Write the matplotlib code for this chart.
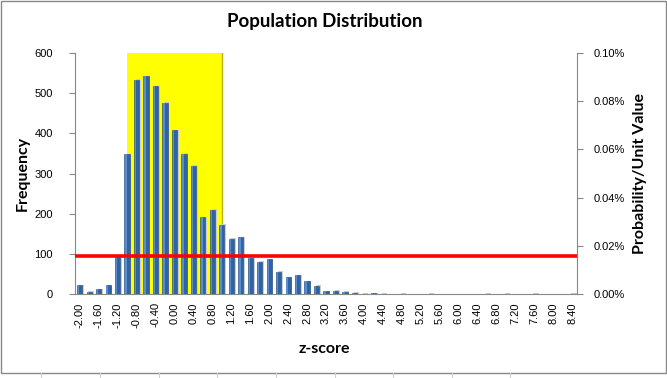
import numpy as np
import matplotlib
matplotlib.use("Agg")
import matplotlib.pyplot as plt
from matplotlib.patches import Rectangle
from matplotlib.lines import Line2D

# z-score categories (every 0.2)
z_scores = [-2.0, -1.8, -1.6, -1.4, -1.2, -1.0, -0.8, -0.6, -0.4, -0.2,
            0.0, 0.2, 0.4, 0.6, 0.8, 1.0, 1.2, 1.4, 1.6, 1.8,
            2.0, 2.2, 2.4, 2.6, 2.8, 3.0, 3.2, 3.4, 3.6, 3.8,
            4.0, 4.2, 4.4, 4.6, 4.8, 5.0, 5.2, 5.4, 5.6, 5.8,
            6.0, 6.2, 6.4, 6.6, 6.8, 7.0, 7.2, 7.4, 7.6, 7.8,
            8.0, 8.2, 8.4]
frequency = [22, 6, 12, 22, 92, 348, 534, 542, 517, 476,
             408, 349, 319, 191, 209, 172, 137, 141, 90, 80,
             86, 55, 42, 47, 32, 20, 7, 8, 5, 3,
             1, 2, 1, 0, 1, 0, 0, 1, 0, 0,
             0, 0, 0, 1, 0, 1, 0, 0, 1, 0,
             0, 0, 1]
band_lo, band_hi = -1.0, 1.0        # highlighted range
threshold = 94                      # red line (frequency units)
prob_max = 0.10                     # right axis max, percent

assert len(z_scores) == len(frequency)

plt.rcParams['font.family'] = ['Liberation Sans', 'DejaVu Sans']

fig = plt.figure(figsize=(6.67, 3.78), dpi=100)
ax = fig.add_axes([75/667, 1-294/378, 502/667, 241/378])

x = np.arange(len(z_scores))
freq = np.array(frequency)
i_lo = z_scores.index(band_lo)
i_hi = z_scores.index(band_hi)

ax.add_patch(Rectangle((i_lo - 0.05, 0), i_hi - i_lo + 0.1, 600,
                       facecolor='#ffff00', edgecolor='none', zorder=1))
ax.plot([i_hi + 0.05, i_hi + 0.05], [0, 600], color='#b5b500', lw=1, zorder=1)

# shadow + bars
nz = freq > 0
ax.bar(x[nz] + 0.18, freq[nz] + 1.5, width=0.55, color='#cccccc', zorder=2)
ax.bar(x, freq, width=0.55, color='#2f64a3', edgecolor='#1f4a7e',
       linewidth=0.4, zorder=3)
ax.bar(x - 0.1, freq, width=0.15, color='#5b8ed0', zorder=4, linewidth=0)

ax.axhline(threshold, color='#ff0000', lw=2.6, zorder=5)

ax.set_xlim(-0.5, len(z_scores) - 0.5)
ax.set_ylim(0, 600)
ax.set_yticks(range(0, 601, 100))
ax.set_xticks(x[::2])
ax.set_xticklabels([f"{v:.2f}" for v in z_scores[::2]], rotation=90,
                   fontsize=8)
ax.tick_params(axis='x', length=0, pad=6)
ax.tick_params(axis='y', length=4, color='#888888', labelsize=8, pad=12)

for s in ['top', 'right']:
    ax.spines[s].set_visible(False)
for s in ['left', 'bottom']:
    ax.spines[s].set_color('#888888')

ax2 = ax.twinx()
ax2.set_ylim(0, prob_max)
ax2.set_yticks(np.arange(0, prob_max + 1e-9, 0.02))
ax2.set_yticklabels([f"{v:.2f}%" for v in np.arange(0, prob_max + 1e-9, 0.02)])
ax2.tick_params(axis='y', length=4, color='#888888', labelsize=8, pad=8)
for s in ['top', 'left', 'bottom']:
    ax2.spines[s].set_visible(False)
ax2.spines['right'].set_color('#888888')

lab = dict(family=['Lato', 'DejaVu Sans'], fontweight='bold')
fig.text(0.487, 0.943, 'Population Distribution', ha='center', va='center',
         fontsize=13.5, **lab)
fig.text(0.034, 0.542, 'Frequency', rotation=90, ha='center', va='center',
         fontsize=11.5, **lab)
fig.text(0.96, 0.542, 'Probability/Unit Value', rotation=90, ha='center',
         va='center', fontsize=11.5, **lab)
fig.text(0.487, 0.076, 'z-score', ha='center', va='center',
         fontsize=11.5, **lab)

# spreadsheet cell lines peeking out below the chart
for px in [41, 100, 159, 217, 276, 335, 393, 452, 510]:
    fig.add_artist(Line2D([px/667, px/667], [0, 5/378], color='#d0d0d0',
                          lw=0.8, transform=fig.transFigure))

# chart border
fig.add_artist(Rectangle((0.001, 1 - 373/378), 0.997, 373/378 - 0.002,
                         transform=fig.transFigure, fill=False,
                         edgecolor='#888888', lw=1))

fig.savefig('out.png', dpi=100)
